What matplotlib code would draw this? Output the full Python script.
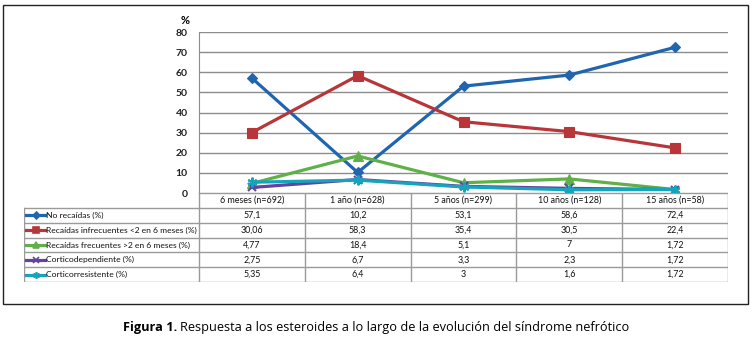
import matplotlib
matplotlib.use("Agg")
import matplotlib.pyplot as plt
from matplotlib.patches import Rectangle

# Datos
periodos = ["6 meses (n=692)", "1 año (n=628)", "5 años (n=299)",
            "10 años (n=128)", "15 años (n=58)"]
series = ["No recaídas (%)",
          "Recaídas infrecuentes <2 en 6 meses (%)",
          "Recaídas frecuentes >2 en 6 meses (%)",
          "Corticodependiente (%)",
          "Corticorresistente (%)"]
no_recaidas = [57.1, 10.2, 53.1, 58.6, 72.4]
infrecuentes = [30.06, 58.3, 35.4, 30.5, 22.4]
frecuentes = [4.77, 18.4, 5.1, 7, 1.72]
corticodep = [2.75, 6.7, 3.3, 2.3, 1.72]
corticorres = [5.35, 6.4, 3, 1.6, 1.72]
valores = [no_recaidas, infrecuentes, frecuentes, corticodep, corticorres]

colores = ["#1f65b0", "#b8363a", "#5fb048", "#6243a0", "#16a4bd"]
marcadores = ["D", "s", "^", "x", (6, 2, 0)]
tamanos = [5, 6.5, 6.5, 6, 7]

W, H = 752, 341
fig = plt.figure(figsize=(W / 100, H / 100), dpi=100)
fuente = ["Lato", "DejaVu Sans"]


def caja(x0, y0, x1, y1):
    # convierte pixeles (origen arriba-izquierda) a fracción de figura
    return [x0 / W, 1 - y1 / H, (x1 - x0) / W, (y1 - y0) / H]


# Marco exterior
fig.patches.append(Rectangle((3 / W, 1 - 304 / H), 745 / W, 299 / H,
                             transform=fig.transFigure, fill=False,
                             edgecolor="#222222", lw=1.0))

# Gráfico de líneas
ax = fig.add_axes(caja(199, 32, 728, 193))
x = range(len(periodos))
for vals, c, m, s in zip(valores, colores, marcadores, tamanos):
    ax.plot(x, vals, color=c, lw=2.3, marker=m, markersize=s,
            markeredgewidth=1.5 if m in ("x", (6, 2, 0)) else 0.8,
            markeredgecolor=c, zorder=3)
ax.set_xlim(-0.5, len(periodos) - 0.5)
ax.set_ylim(0, 80)
ax.set_yticks(range(0, 81, 10))
ax.set_xticks([])
ax.grid(axis="y", color="#8c8c8c", lw=1)
for lado in ["top", "right", "bottom"]:
    ax.spines[lado].set_visible(False)
ax.spines["left"].set_color("#8c8c8c")
ax.tick_params(axis="y", length=0, pad=8, labelsize=7.5)
for t in ax.get_yticklabels():
    t.set_family(fuente)
    t.set_fontweight("bold")
    t.set_color("#222222")
fig.text(185 / W, 1 - 20 / H, "%", ha="center", va="center",
         fontsize=8, fontweight="bold", family=fuente)

# Tabla de datos bajo el gráfico
ancho_col = (728 - 199) / len(periodos)
x_izq = -0.5 - (199 - 24) / ancho_col
tab = fig.add_axes(caja(24, 193, 728, 282))
tab.set_xlim(x_izq, len(periodos) - 0.5)
tab.set_ylim(len(series) + 1, 0)
tab.axis("off")
gris = "#9a9a9a"
tab.plot([-0.5, len(periodos) - 0.5], [0, 0], color=gris, lw=1)
for r in range(1, len(series) + 2):
    tab.plot([x_izq, len(periodos) - 0.5], [r, r], color=gris, lw=1)
tab.plot([x_izq, x_izq], [1, len(series) + 1], color=gris, lw=1)
for i in range(len(periodos) + 1):
    tab.plot([i - 0.5, i - 0.5], [0, len(series) + 1], color=gris, lw=1)

for i, p in enumerate(periodos):
    tab.text(i, 0.5, p, ha="center", va="center", fontsize=6.4,
             family=fuente, color="#111111")
for r, (nombre, vals) in enumerate(zip(series, valores)):
    y = r + 1.5
    for i, v in enumerate(vals):
        txt = f"{v:g}".replace(".", ",")
        tab.text(i, y, txt, ha="center", va="center", fontsize=6.4,
                 family=fuente, color="#111111")
    k0, k1 = x_izq + 0.02, x_izq + 0.2
    tab.plot([k0, k1], [y, y], color=colores[r], lw=2.3)
    tab.plot([(k0 + k1) / 2], [y], color=colores[r], marker=marcadores[r],
             markersize=tamanos[r] * 0.7, markeredgewidth=1.2)
    tab.text(k1 + 0.005, y, nombre, ha="left", va="center", fontsize=6.1,
             family=fuente, color="#111111")

# Pie de figura
fig.text(177 / W, 1 - 327 / H, "Figura 1.", ha="right", va="center",
         fontsize=9.2, fontweight="bold", family=["Open Sans", "DejaVu Sans"])
fig.text(180 / W, 1 - 327 / H,
         "Respuesta a los esteroides a lo largo de la evolución del síndrome nefrótico",
         ha="left", va="center", fontsize=9.2,
         family=["Open Sans", "DejaVu Sans"])

fig.savefig("out.png", dpi=100)
